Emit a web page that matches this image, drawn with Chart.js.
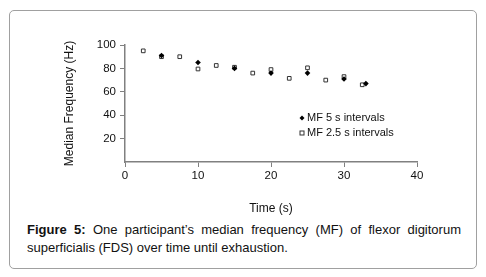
<!DOCTYPE html>
<html>
<head>
<meta charset="utf-8">
<script src="https://cdn.jsdelivr.net/npm/chart.js@4"></script>
<style>
  html, body { margin: 0; padding: 0; background: #fff; }
  body { width: 486px; height: 277px; position: relative; overflow: hidden; font-family: "Liberation Sans", Arial, sans-serif; }
  #frame { position: absolute; left: 9px; top: 10px; width: 468px; height: 259px; border: 1px solid #a0a0a0; border-radius: 5px; box-sizing: border-box; }
  #wrap { position: absolute; left: 0; top: 0; width: 486px; height: 220px; }
  #caption { position: absolute; left: 27px; top: 221px; width: 434px; font-size: 13px; line-height: 18px; text-align: justify; color: #111; }
</style>
</head>
<body>
<div id="frame"></div>
<div id="wrap"><canvas id="grafico"></canvas></div>
<div id="caption"><b>Figure 5:</b> One participant’s median frequency (MF) of flexor digitorum superficialis (FDS) over time until exhaustion.</div>
<script>
// MF 5 s intervals
const tempo5 = [5, 10, 15, 20, 25, 30, 33];
const mf5 = [91, 85, 80, 76, 76, 71, 67];
// MF 2.5 s intervals
const tempo25 = [2.5, 5, 7.5, 10, 12.5, 15, 17.5, 20, 22.5, 25, 27.5, 30, 32.5];
const mf25 = [95, 90, 90, 79.5, 82.5, 81, 76, 79, 71.5, 80.5, 70, 73, 66];
const xTicks = [0, 10, 20, 30, 40];
const yTicks = [20, 40, 60, 80, 100];
const rotulos = ["MF 5 s intervals", "MF 2.5 s intervals"];

const fonte = "'Liberation Sans', Arial, sans-serif";

// legend drawn inside the plot area
const legendaInterna = {
  id: "legendaInterna",
  afterDraw(chart) {
    const { ctx, chartArea } = chart;
    const x = chartArea.left + 177;
    let y = chartArea.top + 73;
    ctx.save();
    ctx.font = "11px " + fonte;
    ctx.textBaseline = "middle";
    chart.data.datasets.forEach((ds) => {
      ctx.fillStyle = ds.backgroundColor;
      ctx.strokeStyle = ds.borderColor;
      ctx.lineWidth = 1;
      if (ds.pointStyle === "rectRot") {
        ctx.beginPath();
        ctx.moveTo(x, y - 2.5); ctx.lineTo(x + 2.5, y); ctx.lineTo(x, y + 2.5); ctx.lineTo(x - 2.5, y);
        ctx.closePath(); ctx.fill();
      } else {
        ctx.strokeRect(x - 2, y - 2, 4, 4);
      }
      ctx.fillStyle = "#111";
      ctx.fillText(ds.label, x + 5, y);
      y += 15;
    });
    ctx.restore();
  }
};

new Chart(document.getElementById("grafico").getContext("2d"), {
  type: "scatter",
  data: {
    datasets: [
      {
        label: rotulos[0],
        data: tempo5.map((t, i) => ({ x: t, y: mf5[i] })),
        pointStyle: "rectRot",
        pointRadius: 2.8,
        backgroundColor: "#000",
        borderColor: "#000",
        borderWidth: 0
      },
      {
        label: rotulos[1],
        data: tempo25.map((t, i) => ({ x: t, y: mf25[i] })),
        pointStyle: "rect",
        pointRadius: 2.6,
        backgroundColor: "rgba(255,255,255,0)",
        borderColor: "#333",
        borderWidth: 1
      }
    ]
  },
  options: {
    responsive: true,
    maintainAspectRatio: false,
    animation: false,
    layout: { padding: { left: 62, right: 69, top: 45, bottom: 0 } },
    plugins: {
      legend: { display: false },
      tooltip: { enabled: false }
    },
    scales: {
      x: {
        type: "linear",
        min: 0,
        max: 40,
        afterBuildTicks: s => { s.ticks = xTicks.map(v => ({ value: v })); },
        ticks: { color: "#111", font: { size: 11.5, family: fonte }, padding: 2, maxRotation: 0 },
        grid: { drawOnChartArea: false, color: "#808080", tickLength: 5 },
        border: { color: "#808080", width: 1.5 },
        title: { display: true, text: "Time (s)", color: "#111", font: { size: 12, family: fonte }, padding: { top: 17 } },
        afterFit: s => { s.height = 58; }
      },
      y: {
        min: 0,
        max: 100,
        afterBuildTicks: s => { s.ticks = yTicks.map(v => ({ value: v })); },
        ticks: { color: "#111", font: { size: 11.5, family: fonte }, padding: 4 },
        grid: { drawOnChartArea: false, color: "#808080", tickLength: 5 },
        border: { color: "#808080", width: 1.5 },
        title: { display: true, text: "Median Frequency (Hz)", color: "#111", font: { size: 12, family: fonte }, padding: 0 },
        afterFit: s => { s.width = 63; }
      }
    }
  },
  plugins: [legendaInterna]
});
</script>
</body>
</html>
